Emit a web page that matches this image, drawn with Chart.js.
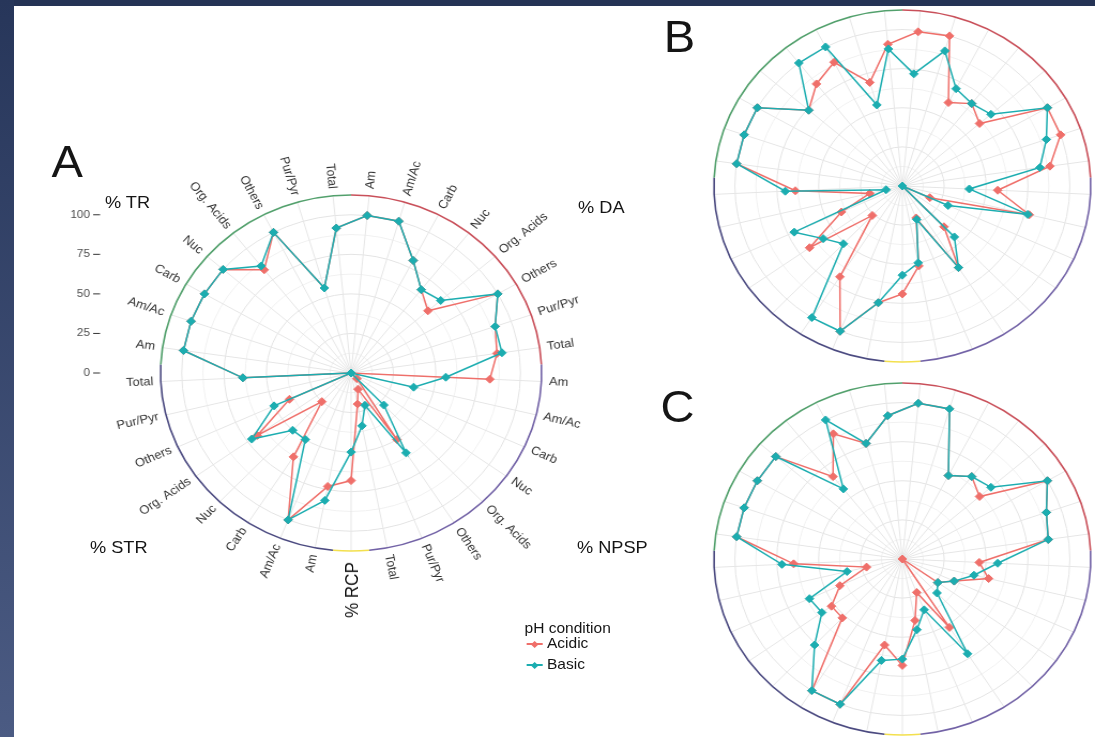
<!DOCTYPE html>
<html><head><meta charset="utf-8">
<script src="https://cdn.jsdelivr.net/npm/chart.js@4.4.0/dist/chart.umd.min.js"></script>
<style>
html,body{margin:0;padding:0;width:1095px;height:737px;overflow:hidden;background:#253355;}
#leftbar{position:absolute;left:0;top:0;width:14px;height:737px;background:linear-gradient(#27365a,#4b5b83);}
#white{position:absolute;left:14px;top:6px;right:0;bottom:0;background:#ffffff;}
#wrap{position:absolute;left:0;top:0;width:1023px;height:737px;transform:scaleX(1.0704);transform-origin:0 0;font-family:"Liberation Sans",Arial,Helvetica,sans-serif;}
canvas{position:absolute;left:0;top:0;}
.t{position:absolute;line-height:1;white-space:nowrap;color:#151515;}
.key{position:absolute;width:15px;height:2px;}
.dia{position:absolute;width:5px;height:5px;transform:rotate(45deg);}
</style></head>
<body>
<div id="leftbar"></div>
<div id="white"></div>
<div id="wrap">
  <canvas id="cA" width="1023" height="737"></canvas>
  <canvas id="cB" width="1023" height="737"></canvas>
  <canvas id="cC" width="1023" height="737"></canvas>
  <div class="t" style="left:48px;top:140px;font-size:44px;">A</div>
  <div class="t" style="left:620px;top:15px;font-size:44px;">B</div>
  <div class="t" style="left:617px;top:385px;font-size:44px;">C</div>
  <div class="t" style="left:98px;top:194px;font-size:17px;">% TR</div>
  <div class="t" style="left:540px;top:199px;font-size:17px;">% DA</div>
  <div class="t" style="left:539px;top:539px;font-size:17px;">% NPSP</div>
  <div class="t" style="left:84px;top:539px;font-size:17px;">% STR</div>
  <div class="t" style="left:329px;top:590px;font-size:17px;transform:translate(-50%,-50%) rotate(-90deg);">% RCP</div>
  <div class="t" style="left:490px;top:621px;font-size:14.5px;">pH condition</div>
  <div class="key" style="left:492px;top:643px;background:#ef6f6a;"></div>
  <div class="dia" style="left:497px;top:641.5px;background:#ef6f6a;"></div>
  <div class="t" style="left:511px;top:636px;font-size:14.5px;">Acidic</div>
  <div class="key" style="left:492px;top:664px;background:#1cadb0;"></div>
  <div class="dia" style="left:497px;top:662.5px;background:#1cadb0;"></div>
  <div class="t" style="left:511px;top:657px;font-size:14.5px;">Basic</div>
</div>
<script>
// ---- data ----
const categories = ['Am','Am/Ac','Carb','Nuc','Org. Acids','Others','Pur/Pyr','Total'];
const groupNames = ['DA','NPSP','RCP','STR','TR'];
const groupSizes = [8,8,1,8,8];
const groupColors = ['#c9505a','#7262a6','#f3e04e','#4b4a80','#52a06c'];
const rTicks = [0,25,50,75,100];
const seriesNames = ['Acidic','Basic'];

// order: DA(8), NPSP(8), RCP(1), STR(8), TR(8)
const acidicA = [100,100,80,67,60,100,90,87, 82,0,0,0,5,50,11,20, 68, 73,100,63,25,68,40,0,64, 100,100,100,100,83,100,56,92];
const basicA  = [100,100,80,67,70,100,90,90, 56,38,0,0,28,60,22,34, 50, 82,100,50,50,72,50,0,64, 100,100,100,100,86,100,56,92];
const acidicB = [99,100,60,67,61,100,100,89, 57,78,18,0,36,62,22,52, 69, 76,100,69,26,68,40,20,64, 100,100,100,74,83,89,69,91];
const basicB  = [72,90,70,67,70,100,91,83, 40,77,30,0,45,62,23,50, 57, 76,100,100,51,58,71,10,70, 100,100,100,74,100,100,54,88];
const acidicC = [100,100,60,67,61,100,91,88, 46,53,34,26,0,52,23,40, 68, 56,100,100,52,52,41,22,65, 100,100,100,100,67,90,77,92];
const basicC  = [100,100,60,67,70,100,91,88, 57,44,34,26,30,72,35,46, 64, 66,100,100,76,59,61,34,72, 100,100,100,100,57,100,77,92];

const labels = [];
groupNames.forEach((g,gi)=>{ if(groupSizes[gi]===1){ labels.push(''); } else { categories.forEach(c=>labels.push(c)); } });

const RED = '#ef6f6a', TEAL = '#1cadb0';
const FONT = '"Liberation Sans", Arial, Helvetica, sans-serif';

const decor = {
  id:'decor',
  beforeDatasetsDraw(chart, args, o){
    const s = chart.scales.r, ctx = chart.ctx;
    const R = s.drawingArea, cx = s.xCenter, cy = s.yCenter;
    const step = 2*Math.PI/labels.length;
    let k = 0;
    ctx.save();
    ctx.lineWidth = 1.6;
    groupSizes.forEach((n,gi)=>{
      const a0 = s.getIndexAngle(k) - step/2 - Math.PI/2;
      const a1 = s.getIndexAngle(k+n-1) + step/2 - Math.PI/2;
      ctx.beginPath(); ctx.arc(cx, cy, R, a0, a1);
      ctx.strokeStyle = groupColors[gi]; ctx.stroke();
      k += n;
    });
    ctx.restore();
    if (o.labels) {
      ctx.save();
      ctx.font = '12px ' + FONT; ctx.fillStyle = '#333'; ctx.textBaseline = 'middle';
      labels.forEach((lab,i)=>{
        if(!lab) return;
        const th = s.getIndexAngle(i) % (2*Math.PI);
        const p = s.getPointPosition(i, R + 7);
        ctx.save(); ctx.translate(p.x, p.y);
        if (th < Math.PI) { ctx.rotate(th - Math.PI/2); ctx.textAlign = 'left'; }
        else { ctx.rotate(th - 1.5*Math.PI); ctx.textAlign = 'right'; }
        ctx.fillText(lab, 0, 0);
        ctx.restore();
      });
      ctx.font = '11px ' + FONT; ctx.fillStyle = '#4d4d4d'; ctx.textAlign = 'right';
      ctx.strokeStyle = '#333'; ctx.lineWidth = 1;
      rTicks.forEach(v=>{
        const y = cy - s.getDistanceFromCenterForValue(v);
        ctx.fillText(String(v), 84, y);
        ctx.beginPath(); ctx.moveTo(87, y); ctx.lineTo(93.5, y); ctx.stroke();
      });
      ctx.restore();
    }
  }
};

function ds(name, data, color, order){
  return {label:name, data:data, borderColor:color, backgroundColor:color,
    pointBackgroundColor:color, pointBorderColor:color, pointStyle:'rectRot',
    pointRadius:4, pointBorderWidth:1, borderWidth:1.5, fill:false, order:order};
}

function makeChart(id, acid, basic, pad, showLabels){
  return new Chart(document.getElementById(id), {
    type:'radar',
    data:{labels:labels, datasets:[ds(seriesNames[1], basic, TEAL, 1), ds(seriesNames[0], acid, RED, 2)]},
    options:{
      responsive:false, animation:false, devicePixelRatio:1, events:[],
      layout:{padding:pad},
      elements:{line:{tension:0}},
      plugins:{legend:{display:false}, tooltip:{enabled:false}, decor:{labels:showLabels}},
      scales:{r:{
        min:0, max:112.5, startAngle:360/labels.length/2,
        ticks:{display:false, stepSize:12.5},
        pointLabels:{display:false},
        grid:{circular:true,
          color:(c)=>{ const v = c.tick ? c.tick.value : 0; if (v > 112) return 'rgba(0,0,0,0)'; return (v % 25 === 0) ? '#e4e4e4' : '#f1f1f1'; },
          lineWidth:1},
        angleLines:{color:'#e6e6e6', lineWidth:1}
      }}
    },
    plugins:[decor]
  });
}

makeChart('cA', acidicA, basicA, {left:150, top:195, right:517, bottom:186}, true);
makeChart('cB', acidicB, basicB, {left:667, top:10, right:4, bottom:375}, false);
makeChart('cC', acidicC, basicC, {left:667, top:383, right:4, bottom:2}, false);
</script>
</body></html>
